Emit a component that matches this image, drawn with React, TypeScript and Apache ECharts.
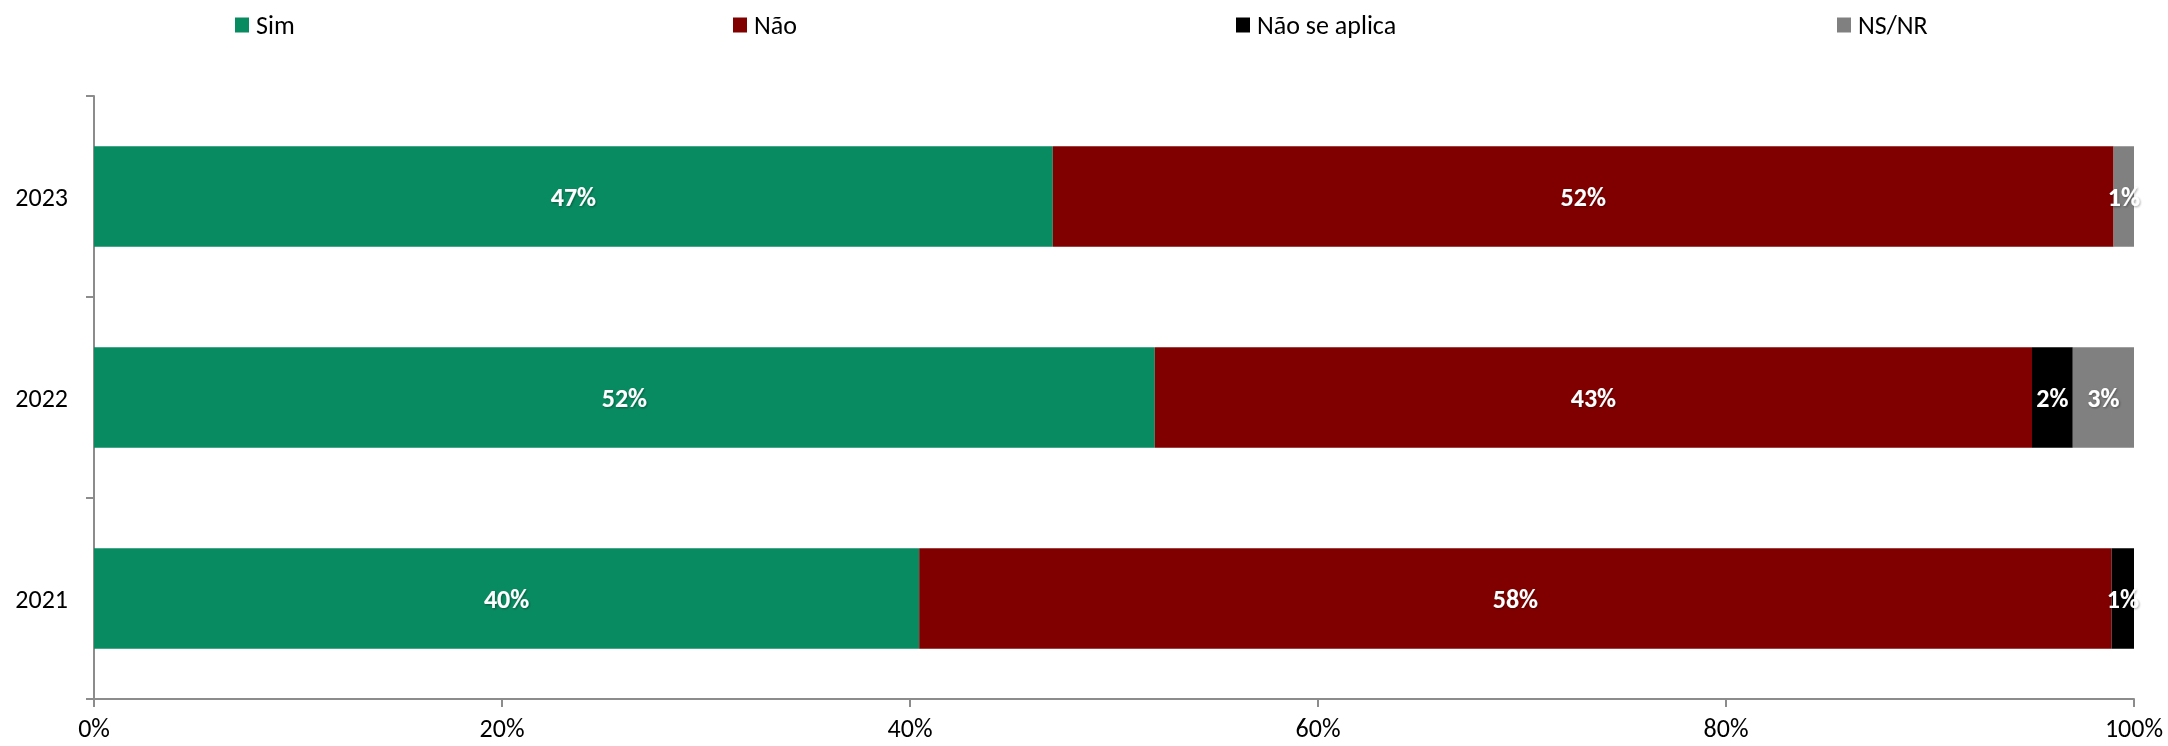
import React, { useEffect, useRef } from "react";
import * as echarts from "echarts";

const years = ["2021", "2022", "2023"];
const seriesNames = ["Sim", "Não", "Não se aplica", "NS/NR"];
const simValues = [40.45, 52, 47];
const naoValues = [58.45, 43, 52];
const naoSeAplicaValues = [1.1, 2, 0];
const nsnrValues = [0, 3, 1];
const seriesColors = ["#098B61", "#800000", "#000000", "#808080"];
const xTicks = [0, 20, 40, 60, 80, 100];
const legendLefts = [235, 733, 1236, 1837];

const FONT = "Carlito, Calibri, Lato, sans-serif";

export default function App() {
  const ref = useRef<HTMLDivElement>(null);
  useEffect(() => {
    document.body.style.margin = "0";
    if (!ref.current) return;
    const chart = echarts.init(ref.current, null, { renderer: "svg" });
    const values = [simValues, naoValues, naoSeAplicaValues, nsnrValues];
    chart.setOption({
      animation: false,
      textStyle: { fontFamily: FONT },
      legend: seriesNames.map((n, i) => ({
        data: [n],
        left: legendLefts[i],
        top: 12,
        padding: 0,
        itemWidth: 14,
        itemHeight: 15,
        icon: "rect",
        selectedMode: false,
        textStyle: { fontSize: 26, color: "#000", fontFamily: FONT, padding: [0, 0, 0, 2] },
      })),
      grid: { left: 94, right: 34, top: 96, bottom: 47, containLabel: false },
      xAxis: {
        type: "value",
        min: xTicks[0],
        max: xTicks[xTicks.length - 1],
        interval: 20,
        splitLine: { show: false },
        axisLine: { show: true, lineStyle: { color: "#8c8c8c", width: 2 } },
        axisTick: { show: true, length: 8, lineStyle: { color: "#8c8c8c", width: 2 } },
        axisLabel: {
          formatter: "{value}%",
          fontSize: 26,
          lineHeight: 26,
          color: "#000",
          margin: 16,
          fontFamily: FONT,
        },
      },
      yAxis: {
        type: "category",
        data: years,
        axisLine: { show: true, lineStyle: { color: "#8c8c8c", width: 2 } },
        axisTick: { show: true, length: 8, alignWithLabel: false, lineStyle: { color: "#8c8c8c", width: 2 } },
        axisLabel: { fontSize: 26, color: "#000", margin: 26, fontFamily: FONT },
      },
      series: seriesNames.map((n, i) => ({
        name: n,
        type: "bar",
        stack: "total",
        data: values[i],
        barCategoryGap: "50%",
        itemStyle: { color: seriesColors[i] },
        label: {
          show: true,
          position: "inside",
          color: "#fff",
          fontWeight: "bold",
          fontSize: 26,
          fontFamily: FONT,
          textShadowColor: "rgba(0,0,0,0.35)",
          textShadowBlur: 2,
          textShadowOffsetX: 1,
          textShadowOffsetY: 1,
          formatter: (p: any) => (p.value >= 0.5 ? Math.round(p.value) + "%" : ""),
        },
      })),
    });
    return () => chart.dispose();
  }, []);
  return (
    <div
      ref={ref}
      style={{ position: "fixed", left: 0, top: 0, width: 2168, height: 746 }}
    />
  );
}
